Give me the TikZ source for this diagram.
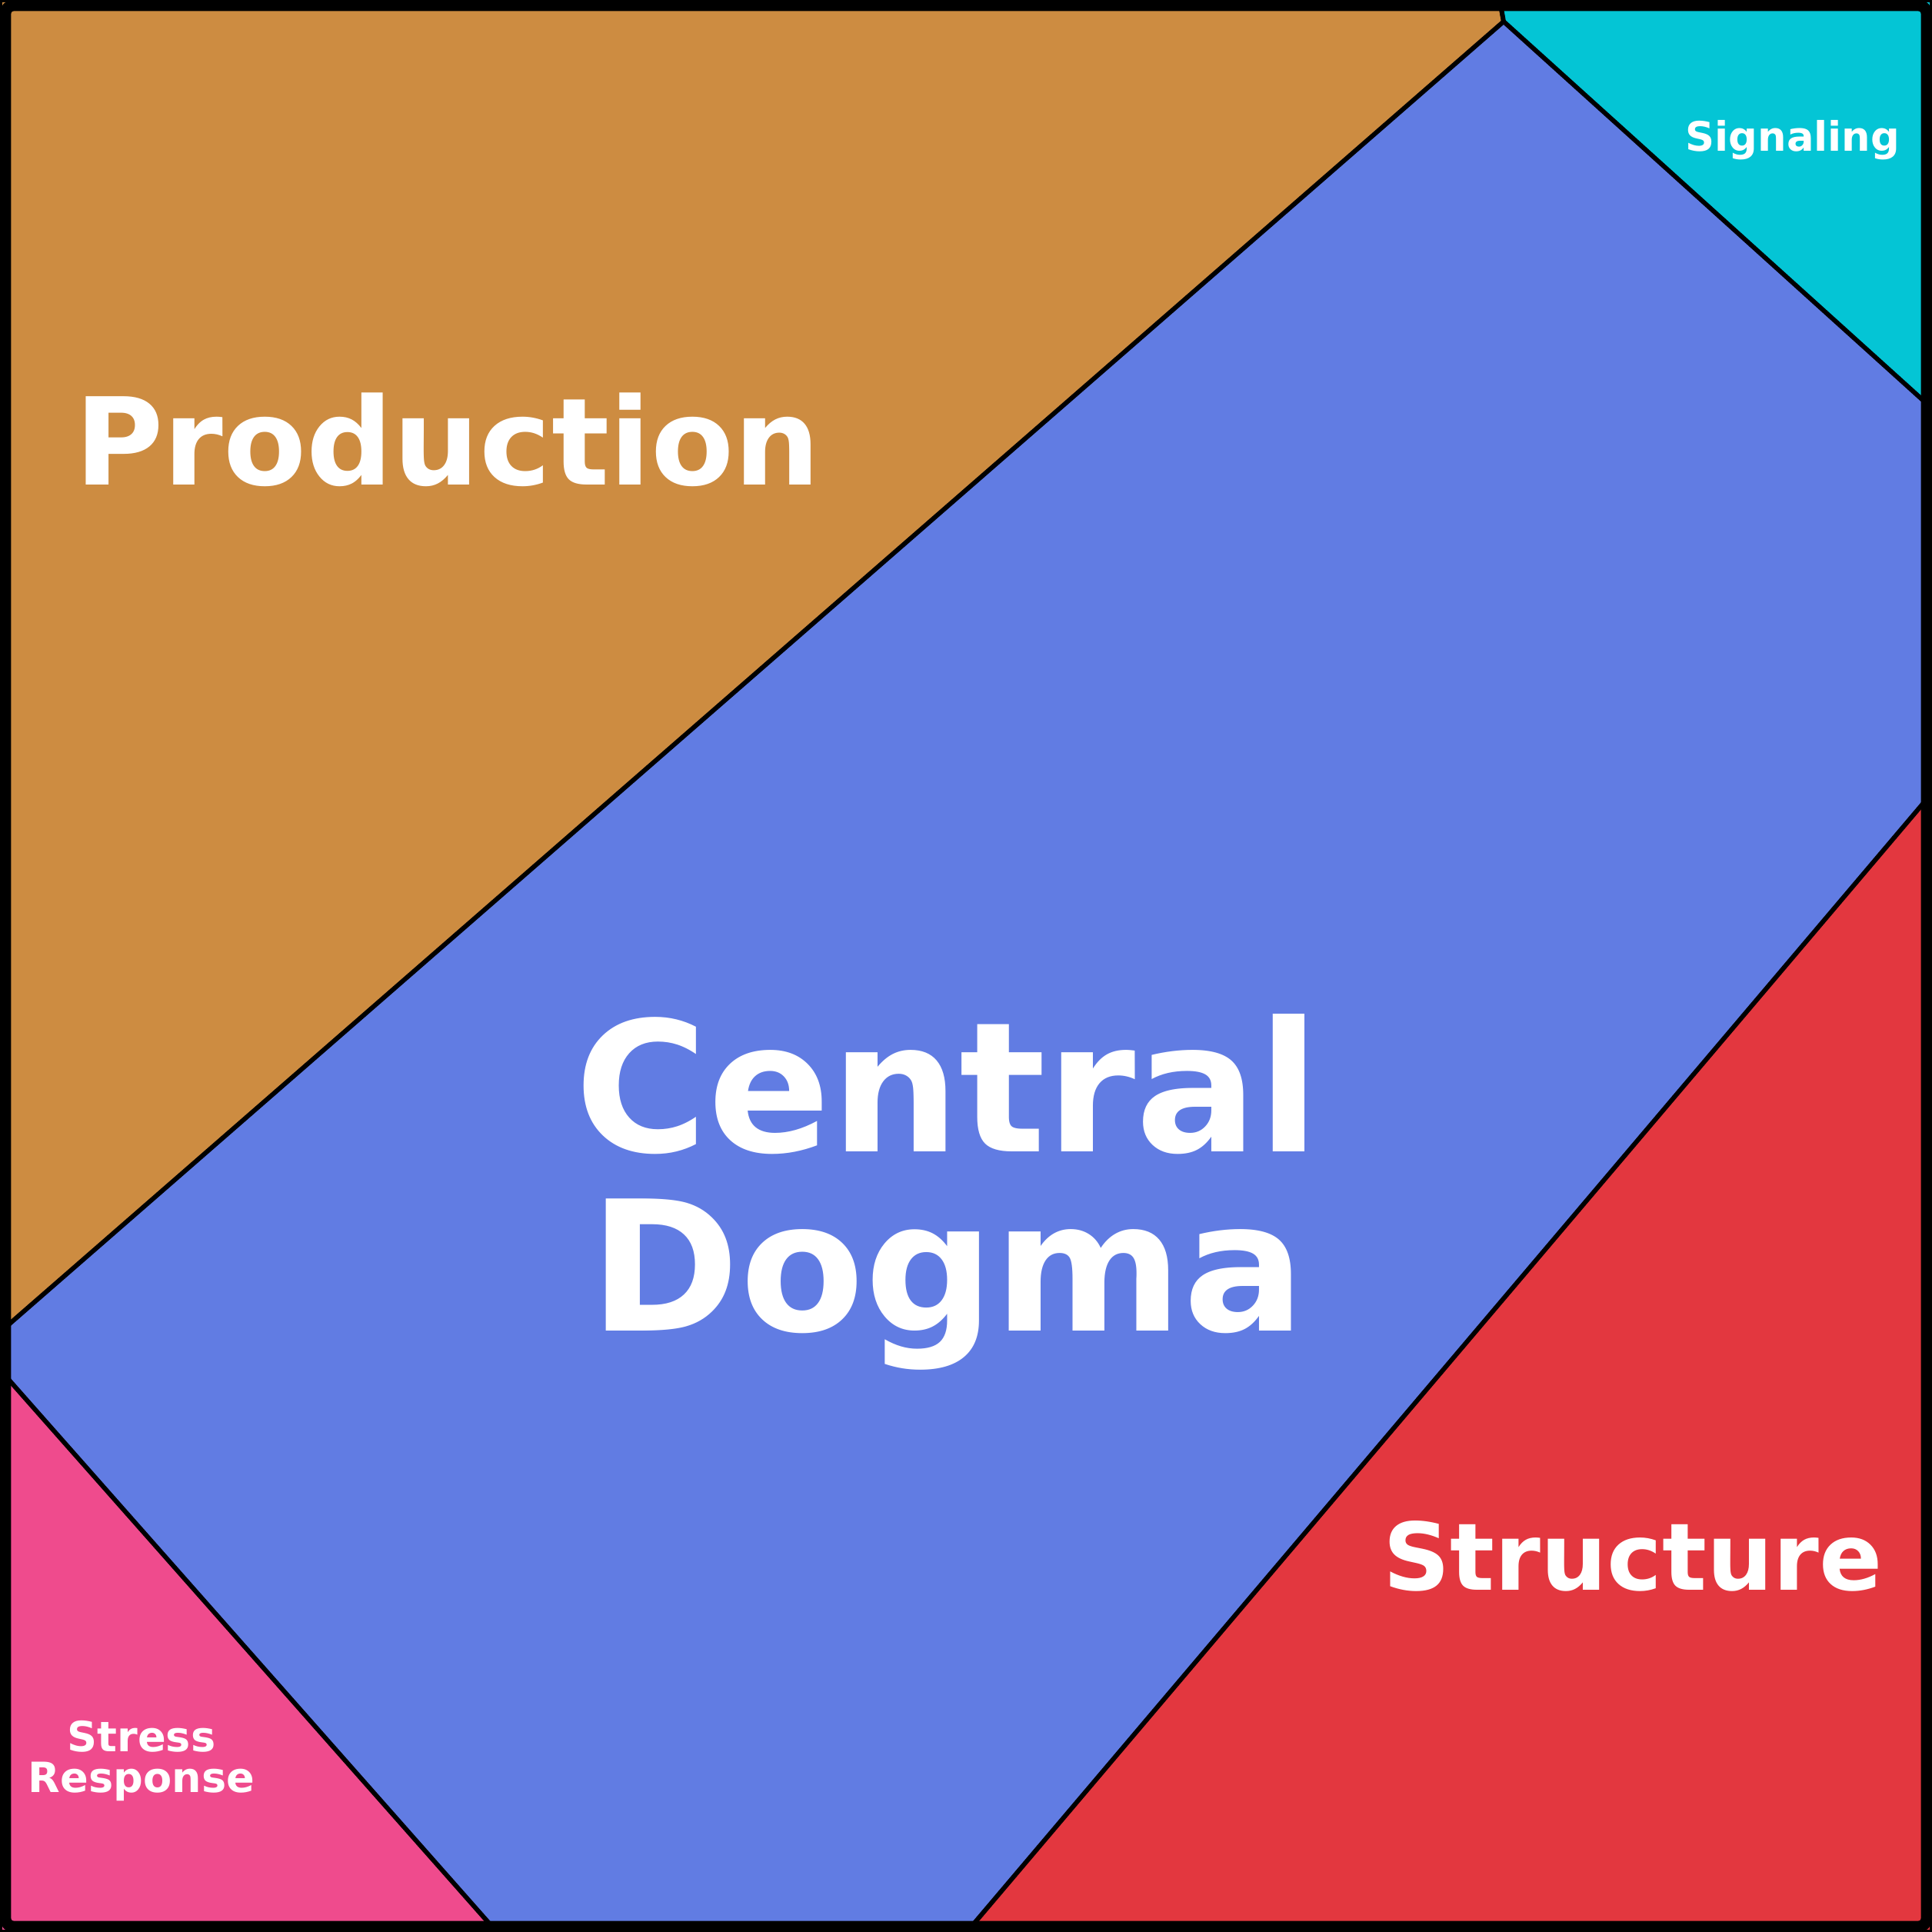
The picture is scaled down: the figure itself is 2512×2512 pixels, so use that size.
\documentclass[tikz,border=0pt]{standalone}
\usepackage{fontspec}
\setmainfont{DejaVu Sans}
\definecolor{prodcol}{RGB}{205,140,65}
\definecolor{dogmacol}{RGB}{97,124,227}
\definecolor{signalcol}{RGB}{4,197,213}
\definecolor{structcol}{RGB}{227,55,63}
\definecolor{stresscol}{RGB}{239,75,141}
\tikzset{
    cell/.style={draw=black,line width=1.7pt,line join=round},
    label/.style={text=white,font=\bfseries,inner sep=0pt,align=center}
}

\begin{document}
\begin{tikzpicture}[x=0.01cm,y=-0.01cm]

    \useasboundingbox (0,0) rectangle (2512,2512);

    % corners and cell vertices (pixel grid)
    \coordinate (tl) at (0,0);
    \coordinate (tr) at (2512,0);
    \coordinate (br) at (2512,2512);
    \coordinate (bl) at (0,2512);
    \coordinate (top) at (1950,0);
    \coordinate (hub) at (1955,28);
    \coordinate (sigR) at (2512,531);
    \coordinate (strR) at (2512,1031);
    \coordinate (strB) at (1257,2512);
    \coordinate (resB) at (646,2512);
    \coordinate (resL) at (0,1781);
    \coordinate (proL) at (0,1732);

    \fill[dogmacol] (tl) rectangle (br);
    \filldraw[cell,fill=prodcol] (tl) -- (top) -- (hub) -- (proL) -- cycle;
    \filldraw[cell,fill=signalcol] (top) -- (tr) -- (sigR) -- (hub) -- cycle;
    \filldraw[cell,fill=structcol] (strR) -- (br) -- (strB) -- cycle;
    \filldraw[cell,fill=stresscol] (resL) -- (resB) -- (bl) -- cycle;

    \draw[line width=4.2pt,rounded corners=3pt] (7,7) rectangle (2505,2505);

    \node[label,anchor=base,font=\bfseries\fontsize{44.8}{44.8}\selectfont] (production) at (582,630) {Production};
    \node[label,anchor=base,font=\bfseries\fontsize{15}{15}\selectfont] (signaling) at (2331,196) {Signaling};
    \node[label,anchor=base,font=\bfseries\fontsize{34.5}{34.5}\selectfont] (structure) at (2123,2067) {Structure};
    \node[label,anchor=base,font=\bfseries\fontsize{67}{66}\selectfont] (dogma) at (1232,1730) {Central\\Dogma};
    \node[label,anchor=base,font=\bfseries\fontsize{15.4}{15}\selectfont] (stress) at (184,2330) {Stress\\Response};

\end{tikzpicture}
\end{document}
